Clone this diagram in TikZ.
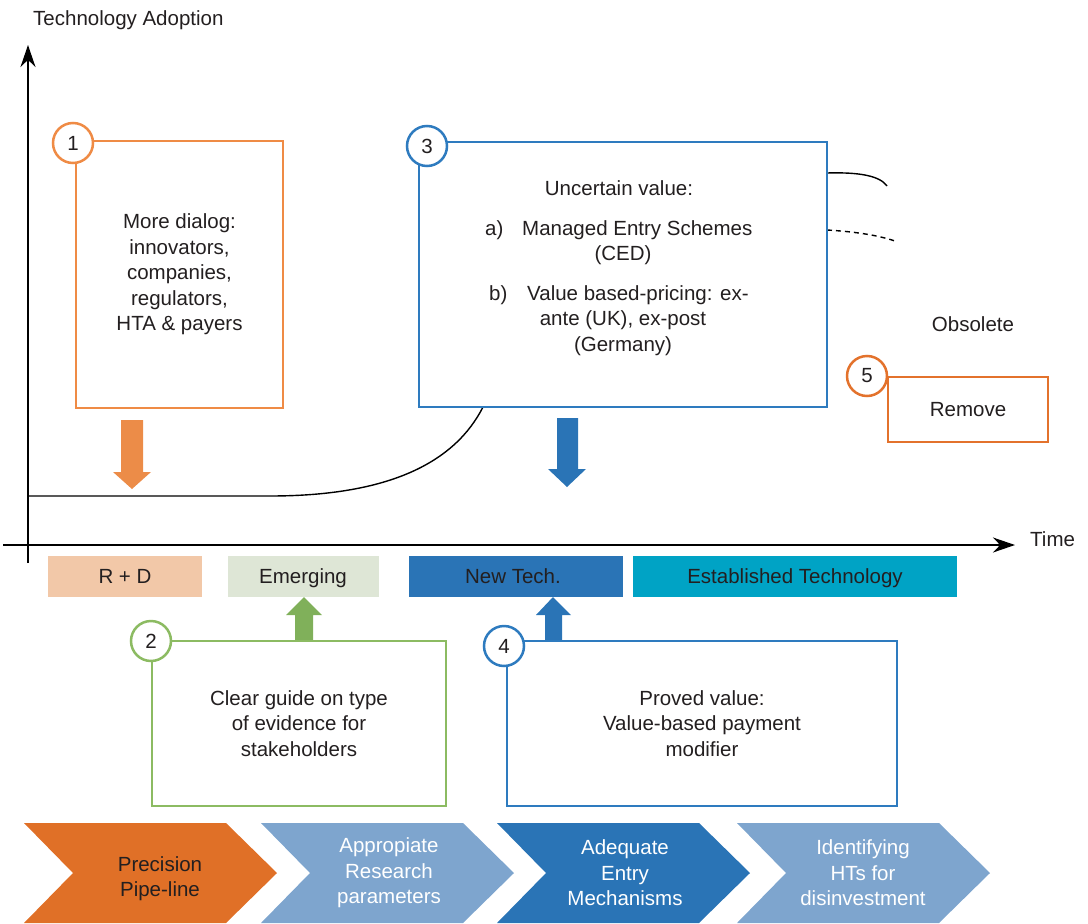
\documentclass[tikz,border=0pt]{standalone}
\usepackage{fontspec}
\setmainfont{Liberation Sans}
\usetikzlibrary{arrows.meta}
\definecolor{txt}{HTML}{231F20}
\definecolor{orlight}{HTML}{EF8B45}
\definecolor{ordark}{HTML}{E3722C}
\definecolor{bl}{HTML}{2E7BBF}
\definecolor{gr}{HTML}{8CBB62}
\definecolor{peach}{HTML}{F2C8A8}
\definecolor{pale}{HTML}{DEE6D6}
\definecolor{teal}{HTML}{00A3C5}
\definecolor{chevlight}{HTML}{7EA5CE}
\definecolor{chevor}{HTML}{E07027}
\definecolor{blfill}{HTML}{2A74B6}
\definecolor{arrow-or}{HTML}{EC8C48}
\definecolor{arrow-gr}{HTML}{80B05A}
\tikzset{
  every node/.style={font=\fontsize{20.5}{25.5}\selectfont, text=txt, inner sep=0pt},
  framebox/.style={draw, line width=2.5pt, fill=white},
  numcircle/.style={circle, draw, line width=2.5pt, fill=white, minimum size=40pt},
  phase/.style={minimum height=41pt},
  axis/.style={line width=1.6pt, -{Stealth[length=22pt,width=15pt]}},
  chevtext/.style={align=center, text=white},
}
\begin{document}
\begin{tikzpicture}[x=1pt,y=-1pt]
\useasboundingbox (0,0) rectangle (1088,924);

% axes
\coordinate (yb) at (28,563);
\coordinate (yt) at (28,45);
\coordinate (xl) at (3,545);
\coordinate (xr) at (1015,545);
\draw[axis] (yb) -- (yt);
\draw[axis] (xl) -- (xr);
\node[anchor=base west] (ylab) at (33,25.5) {Technology Adoption};
\node[anchor=base west] (xlab) at (1030,546) {Time};

% adoption curve
\coordinate (c0) at (28,496);
\coordinate (c1) at (270,496);
\coordinate (c2) at (483,407);
\draw[line width=1.4pt] (c0) -- (c1) .. controls (390,496) and (455,462) .. (c2);
\coordinate (s0) at (827,173);
\coordinate (s1) at (887,186);
\draw[line width=1.4pt] (s0) .. controls (860,172) and (880,176) .. (s1);
\coordinate (d0) at (827,230);
\coordinate (d1) at (895,241);
\draw[line width=1.4pt, dash pattern=on 5pt off 4pt] (d0) .. controls (860,232) and (880,236) .. (d1);

% box 1
\node[framebox, draw=orlight, minimum width=207pt, minimum height=267pt, align=center] (b1) at (179.5,274.5)
  {More dialog:\\innovators,\\companies,\\regulators,\\HTA \& payers};
\node[numcircle, draw=orlight] (n1) at (73,143) {1};

% box 3
\node[framebox, draw=bl, minimum width=408pt, minimum height=265pt] (b3) at (623,274.5) {};
\node[numcircle, draw=bl] (n3) at (427,146) {3};
\node[anchor=base] (t3a) at (619,195.7) {Uncertain value:};
\node[anchor=base west] (t3b) at (485,235) {a)};
\node[anchor=base west] (t3c) at (522,235) {Managed Entry Schemes};
\node[anchor=base] (t3d) at (623,260.5) {(CED)};
\node[anchor=base west] (t3e) at (489,300) {b)};
\node[anchor=base west] (t3f) at (527,300) {Value based-pricing: ex-};
\node[anchor=base] (t3g) at (623,325.5) {ante (UK), ex-post};
\node[anchor=base] (t3h) at (623,351) {(Germany)};

% obsolete / box 5
\node[anchor=base] (obs) at (973,331) {Obsolete};
\node[framebox, draw=ordark, minimum width=160pt, minimum height=65pt] (b5) at (968,409.5) {};
\node[anchor=base] (t5) at (968,416.7) {Remove};
\node[numcircle, draw=ordark] (n5) at (867,376) {5};

% down arrows
\fill[arrow-or] (121,420) -- (143,420) -- (143,472) -- (151,472) -- (132,489) -- (113,472) -- (121,472) -- cycle;
\fill[blfill] (557,418) -- (578,418) -- (578,469) -- (586,469) -- (567,487) -- (548,469) -- (557,469) -- cycle;

% timeline phases
\node[phase, fill=peach, minimum width=154pt] (p1) at (125,576.5) {};
\node[anchor=base] (p1t) at (125,583.3) {R + D};
\node[phase, fill=pale, minimum width=151pt] (p2) at (303.5,576.5) {};
\node[anchor=base] (p2t) at (303,583.3) {Emerging};
\node[phase, fill=blfill, minimum width=214pt] (p3) at (516,576.5) {};
\node[anchor=base] (p3t) at (513,583.3) {New Tech.};
\node[phase, fill=teal, minimum width=324pt] (p4) at (795,576.5) {};
\node[anchor=base] (p4t) at (795,583.3) {Established Technology};

% up arrows
\fill[arrow-gr] (295,641) -- (313,641) -- (313,615) -- (322,615) -- (304,597) -- (286,615) -- (295,615) -- cycle;
\fill[blfill] (545,641) -- (562,641) -- (562,615) -- (571,615) -- (553,597) -- (536,615) -- (545,615) -- cycle;

% box 2
\node[framebox, draw=gr, minimum width=294pt, minimum height=165pt, align=center] (b2) at (299,723.5)
  {Clear guide on type\\of evidence for\\stakeholders};
\node[numcircle, draw=gr] (n2) at (151,641) {2};

% box 4
\node[framebox, draw=bl, minimum width=390pt, minimum height=165pt, align=center] (b4) at (702,723.5)
  {Proved value:\\Value-based payment\\modifier};
\node[numcircle, draw=bl] (n4) at (504,646) {4};

% chevrons
\fill[chevor] (24,823) -- (226,823) -- (277,873) -- (226,923) -- (24,923) -- (73,873) -- cycle;
\fill[chevlight] (261,823) -- (463,823) -- (514,873) -- (463,923) -- (261,923) -- (310,873) -- cycle;
\fill[blfill] (497,823) -- (699,823) -- (750,873) -- (699,923) -- (497,923) -- (546,873) -- cycle;
\fill[chevlight] (737,823) -- (939,823) -- (990,873) -- (939,923) -- (737,923) -- (786,873) -- cycle;
\node[align=center] (c1t) at (160,878.5) {Precision\\Pipe-line};
\node[chevtext] (c2t) at (389,873) {Appropiate\\Research\\parameters};
\node[chevtext] (c3t) at (625,873) {Adequate\\Entry\\Mechanisms};
\node[chevtext] (c4t) at (863,873) {Identifying\\HTs for\\disinvestment};
\end{tikzpicture}
\end{document}
